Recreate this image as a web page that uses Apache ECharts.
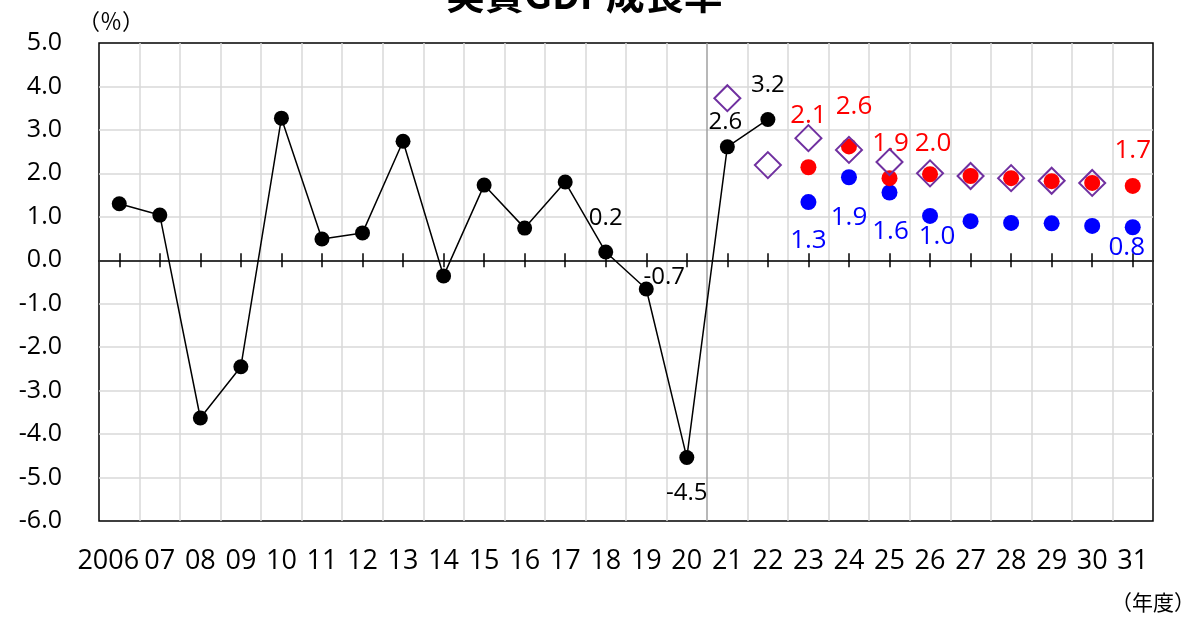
<!DOCTYPE html>
<html><head><meta charset="utf-8">
<script src="https://cdn.jsdelivr.net/npm/echarts@6/dist/echarts.min.js"></script>
<style>html,body{margin:0;padding:0;background:#fff;overflow:hidden}#c{width:1184px;height:617px}</style>
</head><body><div id="c"></div>
<script>
const categories = ['2006','07','08','09','10','11','12','13','14','15','16','17','18','19','20','21','22','23','24','25','26','27','28','29','30','31'];
// actual growth (black line)
const actual = [1.30,1.04,-3.63,-2.45,3.27,0.49,0.63,2.74,-0.36,1.73,0.74,1.80,0.19,-0.66,-4.54,2.61,3.24,null,null,null,null,null,null,null,null,null];
// previous outlook (purple hollow diamonds)
const prevOutlook = [null,null,null,null,null,null,null,null,null,null,null,null,null,null,null,3.73,2.19,2.81,2.54,2.26,2.00,1.94,1.89,1.83,1.78,null];
// growth-realised case (red)
const highCase = [null,null,null,null,null,null,null,null,null,null,null,null,null,null,null,null,null,2.14,2.62,1.89,1.98,1.94,1.89,1.82,1.78,1.71];
// baseline case (blue)
const baseCase = [null,null,null,null,null,null,null,null,null,null,null,null,null,null,null,null,null,1.34,1.91,1.56,1.02,0.90,0.86,0.85,0.79,0.76];
const actualLabeled = ['18','19','20','21','22'];
const highLabeled = ['23','24','25','26','31'];
const baseLabeled = ['23','24','25','26','31'];
const yMin = -6, yMax = 5, yStep = 1;

// label placement (style only)
const labelOffsets = {
  actual: {'18':[0,-34],'19':[18,-12],'20':[0,36],'21':[-2,-25],'22':[0,-34]},
  high: {'23':[0,-52],'24':[5,-40],'25':[1,-35],'26':[3,-31],'31':[0,-35]},
  base: {'23':[0,39],'24':[0,40],'25':[1,39],'26':[7,21],'31':[-6,20]}
};
const FONT = '"Open Sans", "Liberation Sans", sans-serif';

function buildData(values, labeled, offsets, color, size) {
  return values.map((v, i) => {
    const cat = categories[i];
    if (v == null) return null;
    const item = { value: v };
    if (labeled.indexOf(cat) >= 0) {
      item.label = {
        show: true, position: 'inside', offset: offsets[cat],
        formatter: (p) => Number(p.value).toFixed(1),
        color: color, fontSize: size, fontFamily: FONT
      };
    }
    return item;
  });
}

const xSplitColors = [];
for (let i = 0; i < categories.length - 1; i++) xSplitColors.push(i === 14 ? '#a0a0a0' : '#d9d9d9');

const chart = echarts.init(document.getElementById('c'), null, { renderer: 'canvas' });
chart.setOption({
  animation: false,
  backgroundColor: '#fff',
  grid: { left: 99, right: 31, top: 43, bottom: 96, show: true, borderColor: '#000', borderWidth: 1.5, backgroundColor: 'transparent' },
  graphic: [
    { type: 'text', left: 446, top: -25, z: 100,
      style: { text: '実質GDP成長率', font: 'bold 39px "Noto Sans CJK JP"', fill: '#000' } },
    { type: 'text', left: 78, top: 10,
      style: { text: '（％）', font: '22px "Noto Sans CJK JP"', fill: '#000' } },
    { type: 'text', right: -11, top: 592,
      style: { text: '（年度）', font: '21px "Noto Sans CJK JP"', fill: '#000' } }
  ],
  xAxis: [
    { type: 'category', data: categories, position: 'bottom', boundaryGap: true,
      axisLine: { show: false, onZero: false }, axisTick: { show: false },
      axisLabel: { fontSize: 27, fontFamily: FONT, color: '#000', margin: 27, interval: 0,
        formatter: (v, i) => i === 0 ? '{first|' + v + '}' : v,
        rich: { first: { fontSize: 27, fontFamily: FONT, color: '#000', padding: [0, 22, 0, 0] } } },
      splitLine: { show: true, showMinLine: false, showMaxLine: false, lineStyle: { color: xSplitColors, width: 1.5 } } },
    { type: 'category', data: categories, position: 'bottom', boundaryGap: true,
      axisLine: { show: true, onZero: true, onZeroAxisIndex: 0, lineStyle: { color: '#000', width: 1.5 } },
      axisTick: { show: true, alignWithLabel: true, inside: true, length: 7, lineStyle: { color: '#000', width: 1.5 } },
      axisLabel: { show: false }, splitLine: { show: false } },
    { type: 'category', data: categories, position: 'bottom', boundaryGap: true,
      axisLine: { show: false, onZero: true, onZeroAxisIndex: 0 },
      axisTick: { show: true, alignWithLabel: true, inside: false, length: 7, lineStyle: { color: '#000', width: 1.5 } },
      axisLabel: { show: false }, splitLine: { show: false } }
  ],
  yAxis: {
    type: 'value', min: yMin, max: yMax, interval: yStep,
    axisLine: { show: false, onZero: false }, axisTick: { show: false },
    axisLabel: { fontSize: 25, fontFamily: FONT, color: '#000', margin: 37, formatter: (v) => v.toFixed(1) },
    splitLine: { show: true, showMinLine: false, showMaxLine: false, lineStyle: { color: '#d9d9d9', width: 1.5 } }
  },
  series: [
    { type: 'line', name: 'actual', data: buildData(actual, actualLabeled, labelOffsets.actual, '#000', 24),
      symbol: 'circle', symbolSize: 15, connectNulls: false,
      lineStyle: { color: '#000', width: 1.5 }, itemStyle: { color: '#000' }, z: 3 },
    { type: 'scatter', name: 'base', data: buildData(baseCase, baseLabeled, labelOffsets.base, '#0000ff', 26),
      symbol: 'circle', symbolSize: 16, itemStyle: { color: '#0000ff', opacity: 1 }, z: 3 },
    { type: 'scatter', name: 'high', data: buildData(highCase, highLabeled, labelOffsets.high, '#ff0000', 26),
      symbol: 'circle', symbolSize: 16, itemStyle: { color: '#ff0000', opacity: 1 }, z: 4 },
    { type: 'scatter', name: 'prev', data: prevOutlook,
      symbol: 'diamond', symbolSize: [26, 26],
      itemStyle: { color: 'rgba(0,0,0,0)', borderColor: '#7030a0', borderWidth: 2, opacity: 1 }, z: 5 }
  ]
});
</script></body></html>
